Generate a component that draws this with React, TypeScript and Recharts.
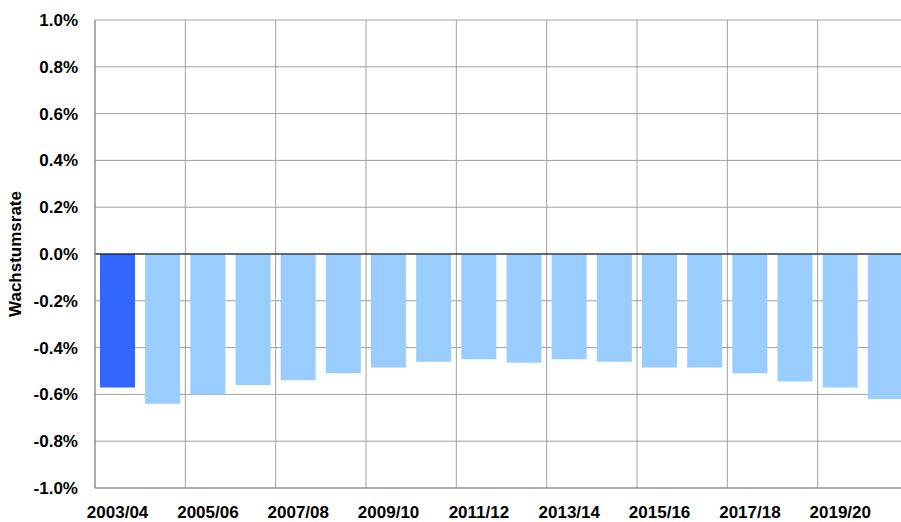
import { BarChart, Bar, Cell, XAxis, YAxis, CartesianGrid, ReferenceLine } from 'recharts'

const jahre = [
  '2003/04', '2004/05', '2005/06', '2006/07', '2007/08', '2008/09',
  '2009/10', '2010/11', '2011/12', '2012/13', '2013/14', '2014/15',
  '2015/16', '2016/17', '2017/18', '2018/19', '2019/20', '2020/21',
]

const raten = [
  -0.57, -0.64, -0.6, -0.56, -0.54, -0.51, -0.485, -0.46, -0.45,
  -0.465, -0.45, -0.46, -0.485, -0.485, -0.51, -0.545, -0.57, -0.62,
]

const yTicks = [-1, -0.8, -0.6, -0.4, -0.2, 0, 0.2, 0.4, 0.6, 0.8, 1]
// vertical grid between every second pair of years (index boundaries)
const gridTicks = [1.5, 3.5, 5.5, 7.5, 9.5, 11.5, 13.5, 15.5]

const data = jahre.map((jahr, i) => ({ jahr, rate: raten[i], idx: i }))

const tickFont = {
  fontFamily: 'Liberation Sans, Arial, sans-serif',
  fontWeight: 'bold',
  fontSize: 17,
  fill: '#000',
}

export default function App() {
  // plot runs a bit past the right edge of the picture, like the original
  return (
    <div style={{ position: 'absolute', left: 0, top: 0, width: 901, height: 522, overflow: 'hidden', background: '#fff' }}>
      <BarChart
        width={908}
        height={522}
        data={data}
        margin={{ top: 20, right: 0, bottom: 0, left: 0 }}
        barSize={35}
      >
        <XAxis
          xAxisId="grid"
          type="number"
          dataKey="idx"
          domain={[-0.5, jahre.length - 0.5]}
          allowDataOverflow
          ticks={gridTicks}
          hide
        />
        <CartesianGrid xAxisId="grid" stroke="#a0a0a0" strokeWidth={1} />
        <XAxis
          dataKey="jahr"
          interval={1}
          tickLine={false}
          axisLine={{ stroke: '#888' }}
          tick={tickFont}
          tickMargin={12}
          height={34}
        />
        <YAxis
          domain={[-1, 1]}
          ticks={yTicks}
          tickFormatter={(v: number) => v.toFixed(1) + '%'}
          tickLine={false}
          axisLine={{ stroke: '#888' }}
          tick={tickFont}
          tickMargin={11}
          width={95}
          label={{
            value: 'Wachstumsrate',
            angle: -90,
            position: 'insideLeft',
            offset: 15,
            style: { ...tickFont, textAnchor: 'middle' },
          }}
        />
        <ReferenceLine y={0} stroke="#000" strokeWidth={1} />
        <Bar dataKey="rate" isAnimationActive={false}>
          {data.map((_, i) => (
            <Cell key={i} fill={i === 0 ? '#3366ff' : '#99ccff'} />
          ))}
        </Bar>
      </BarChart>
    </div>
  )
}
